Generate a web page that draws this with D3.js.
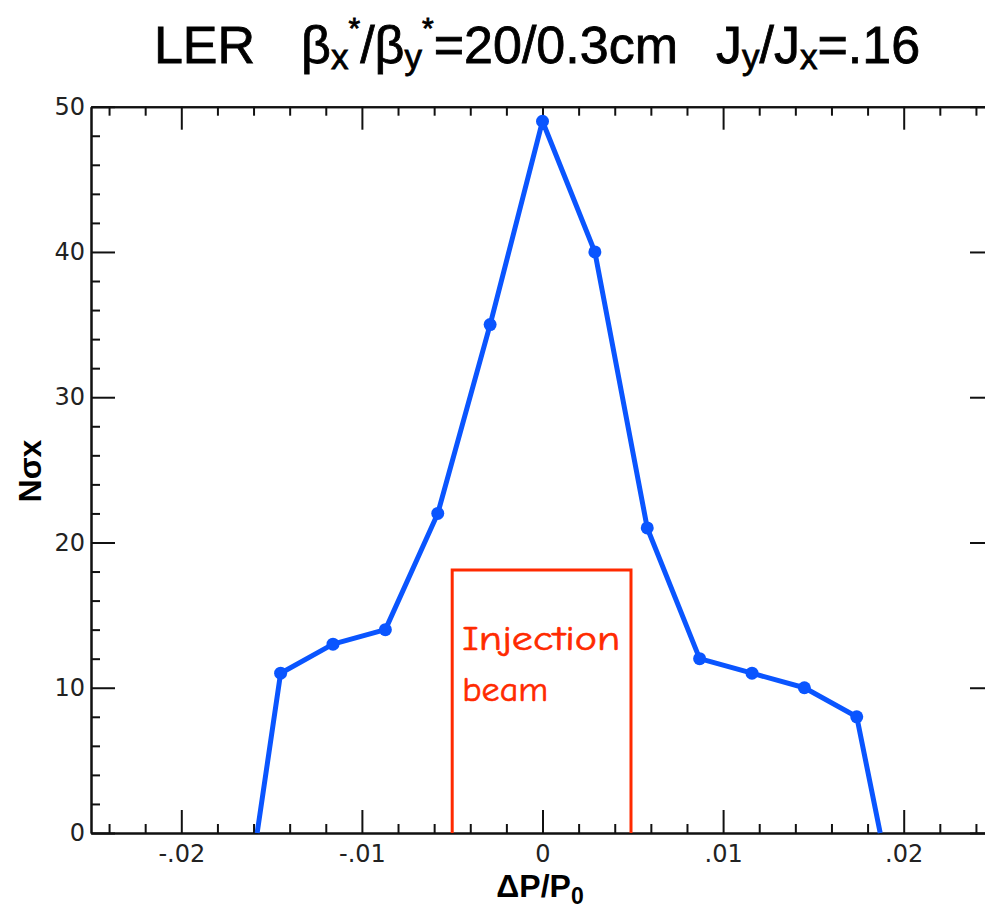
<!DOCTYPE html>
<meta charset="utf-8">
<body style="margin:0;background:#fff">
<svg id="chart" width="985" height="908"></svg>
<script src="https://d3js.org/d3.v7.min.js"></script>
<script>
// values
const dp    = [-0.0158, -0.0145, -0.0116, -0.0087, -0.0058, -0.0029, 0, 0.0029, 0.0058, 0.0087, 0.0116, 0.0145, 0.0174, 0.0187];
const nsig  = [0, 11, 13, 14, 22, 35, 49, 40, 21, 12, 11, 10, 8, 0];
// first and last entries are where the curve leaves the axis (no marker)
const xMajor = [-0.02, -0.01, 0, 0.01, 0.02];
const xMajorLabels = ["-.02", "-.01", "0", ".01", ".02"];
const yMajor = [0, 10, 20, 30, 40, 50];
const yMajorLabels = ["0", "10", "20", "30", "40", "50"];
const beamRange = [-0.005, 0.0049];
const beamTop = 18.1;

const svg = d3.select("#chart");
const x = d3.scaleLinear().domain([-0.025, 0.025]).range([91, 994]);
const y = d3.scaleLinear().domain([0, 50]).range([833, 106.7]);

const xMinor = d3.range(-24, 25, 2).map(d => d / 1000).filter(d => Math.abs(Math.round(d * 1000) % 10) != 0);
const yMinor = d3.range(0, 51, 2).filter(d => d % 10 != 0);

function styleAxis(g) {
  g.selectAll("path, line").attr("stroke", "#111").attr("stroke-width", 2);
  g.selectAll("text").attr("font-family", "DejaVu Sans, sans-serif")
    .attr("font-size", 24).attr("fill", "#222");
}

// bottom
svg.append("g").attr("transform", "translate(0,833)")
  .call(d3.axisBottom(x).tickValues(xMinor).tickSize(-9).tickSizeOuter(0).tickFormat(""))
  .call(styleAxis);
svg.append("g").attr("transform", "translate(0,833)")
  .call(d3.axisBottom(x).tickValues(xMajor).tickSize(-23).tickSizeOuter(0).tickPadding(12)
    .tickFormat((d, i) => xMajorLabels[i]))
  .call(styleAxis);
// top
svg.append("g").attr("transform", "translate(0,106.7)")
  .call(d3.axisTop(x).tickValues(xMinor).tickSize(-9).tickSizeOuter(0).tickFormat(""))
  .call(styleAxis);
svg.append("g").attr("transform", "translate(0,106.7)")
  .call(d3.axisTop(x).tickValues(xMajor).tickSize(-23).tickSizeOuter(0).tickFormat(""))
  .call(styleAxis);
// left
svg.append("g").attr("transform", "translate(91,0)")
  .call(d3.axisLeft(y).tickValues(yMinor).tickSize(-9).tickSizeOuter(0).tickFormat(""))
  .call(styleAxis);
svg.append("g").attr("transform", "translate(91,0)")
  .call(d3.axisLeft(y).tickValues(yMajor).tickSize(-24).tickSizeOuter(0).tickPadding(6)
    .tickFormat((d, i) => yMajorLabels[i]))
  .call(styleAxis);
// right (mostly cut off at the edge)
svg.append("g").attr("transform", "translate(994,0)")
  .call(d3.axisRight(y).tickValues(yMinor).tickSize(-9).tickSizeOuter(0).tickFormat(""))
  .call(styleAxis);
svg.append("g").attr("transform", "translate(994,0)")
  .call(d3.axisRight(y).tickValues(yMajor).tickSize(-24).tickSizeOuter(0).tickFormat(""))
  .call(styleAxis);

// injection beam box
svg.append("path")
  .attr("d", d3.line()([[x(beamRange[0]), y(0)], [x(beamRange[0]), y(beamTop)],
                        [x(beamRange[1]), y(beamTop)], [x(beamRange[1]), y(0)]]))
  .attr("fill", "none").attr("stroke", "#ff2a00").attr("stroke-width", 3);

const comic = "Comic Sans MS, Comic Neue, DejaVu Sans, sans-serif";
svg.append("text").attr("x", x(beamRange[0]) + 10).attr("y", 650)
  .attr("font-family", comic).attr("font-size", 35).attr("fill", "#ff2a00")
  .attr("stroke", "#ff2a00").attr("stroke-width", 0.6)
  .attr("textLength", 158).attr("lengthAdjust", "spacingAndGlyphs").text("Injection");
svg.append("text").attr("x", x(beamRange[0]) + 10).attr("y", 701)
  .attr("font-family", comic).attr("font-size", 35).attr("fill", "#ff2a00")
  .attr("stroke", "#ff2a00").attr("stroke-width", 0.6)
  .attr("textLength", 86).attr("lengthAdjust", "spacingAndGlyphs").text("beam");

// curve
const pts = dp.map((d, i) => [x(d), y(nsig[i])]);
svg.append("path").attr("d", d3.line()(pts))
  .attr("fill", "none").attr("stroke", "#0a55ff").attr("stroke-width", 5)
  .attr("stroke-linejoin", "round");
svg.append("g").selectAll("circle")
  .data(pts.slice(1, -1))
  .enter().append("circle")
    .attr("cx", d => d[0]).attr("cy", d => d[1]).attr("r", 6.5)
    .attr("fill", "#0a55ff");

// axis titles
svg.append("text").attr("transform", "translate(41,471) rotate(-90)")
  .attr("text-anchor", "middle").attr("font-family", "Liberation Sans, Arial, sans-serif")
  .attr("font-weight", "bold").attr("font-size", 32).text("Nσx");

const xl = svg.append("text").attr("x", 540).attr("y", 897).attr("text-anchor", "middle")
  .attr("font-family", "Liberation Sans, Arial, sans-serif").attr("font-weight", "bold").attr("font-size", 32);
xl.append("tspan").text("ΔP/P");
xl.append("tspan").attr("font-size", 23).attr("dy", 7).text("0");

// title
const t = svg.append("text").attr("x", 537).attr("y", 63).attr("text-anchor", "middle")
  .attr("font-family", "Liberation Sans, Arial, sans-serif").attr("font-size", 52).attr("fill", "#000")
  .attr("stroke", "#000").attr("stroke-width", 0.8);
t.append("tspan").text("LER");
t.append("tspan").attr("dx", 46).text("β");
t.append("tspan").attr("font-size", 35).attr("dy", 6).text("x");
t.append("tspan").attr("font-size", 30).attr("dy", -31).text("*");
t.append("tspan").attr("dy", 25).text("/β");
t.append("tspan").attr("font-size", 35).attr("dy", 6).text("y");
t.append("tspan").attr("font-size", 30).attr("dy", -31).text("*");
t.append("tspan").attr("dy", 25).text("=20/0.3cm");
t.append("tspan").attr("dx", 38).text("J");
t.append("tspan").attr("font-size", 35).attr("dy", 6).text("y");
t.append("tspan").attr("dy", -6).text("/J");
t.append("tspan").attr("font-size", 35).attr("dy", 6).text("x");
t.append("tspan").attr("dy", -6).text("=.16");
</script>
</body>
